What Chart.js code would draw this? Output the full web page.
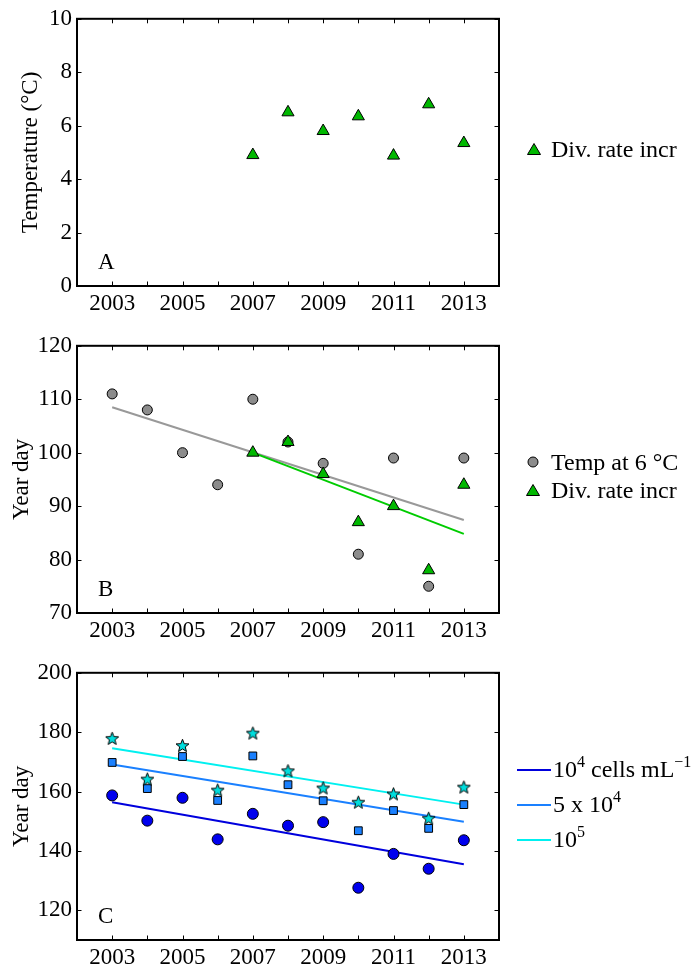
<!DOCTYPE html>
<html lang="en">
  <head>
    <meta charset="UTF-8" />
    <title>Phenology panels</title>
    <script src="https://cdn.jsdelivr.net/npm/chart.js@4.4.1/dist/chart.umd.min.js"></script>
    <style>
      html, body { margin: 0; padding: 0; background: #fff; }
      #page {
        position: relative;
        width: 694px;
        height: 972px;
        font-family: 'Liberation Serif', 'Times New Roman', serif;
        font-size: 24px;
        color: #000;
      }
      .panel { position: absolute; left: 0; width: 694px; height: 318px; }
      .legend { position: absolute; line-height: 28px; white-space: nowrap; }
      .legend .row { display: flex; align-items: center; }
      .legend svg { margin-right: 9px; }
      sup { font-size: 16px; line-height: 0; vertical-align: 10px; }
    </style>
  </head>
  <body>
    <div id="page">
      <div class="panel" style="top: 0"><canvas id="chart-a" width="694" height="318"></canvas></div>
      <div class="panel" style="top: 327px"><canvas id="chart-b" width="694" height="318"></canvas></div>
      <div class="panel" style="top: 654px"><canvas id="chart-c" width="694" height="318"></canvas></div>

      <div class="legend" style="left: 526px; top: 135px">
        <div class="row">
          <svg width="16" height="14"><polygon points="8,1.5 14.5,12.5 1.5,12.5" fill="#00b800" stroke="#000" stroke-width="1" /></svg>
          Div. rate incr
        </div>
      </div>
      <div class="legend" style="left: 526px; top: 448px">
        <div class="row">
          <svg width="16" height="14"><circle cx="7" cy="7" r="5" fill="#8c8c8c" stroke="#000" stroke-width="1" /></svg>
          Temp at 6 °C
        </div>
        <div class="row">
          <svg width="16" height="14"><polygon points="7,1.5 13.5,12.5 0.5,12.5" fill="#00b800" stroke="#000" stroke-width="1" /></svg>
          Div. rate incr
        </div>
      </div>
      <div class="legend" style="left: 517px; top: 752px; line-height: 35px">
        <div class="row">
          <svg width="34" height="6" style="margin-right: 2px"><line x1="0" y1="3" x2="34" y2="3" stroke="#0000dd" stroke-width="2" /></svg>
          <span>10<sup>4</sup> cells mL<sup>&minus;1</sup></span>
        </div>
        <div class="row">
          <svg width="34" height="6" style="margin-right: 2px"><line x1="0" y1="3" x2="34" y2="3" stroke="#1a80ff" stroke-width="2" /></svg>
          <span>5 x 10<sup>4</sup></span>
        </div>
        <div class="row">
          <svg width="34" height="6" style="margin-right: 2px"><line x1="0" y1="3" x2="34" y2="3" stroke="#00f0f0" stroke-width="2" /></svg>
          <span>10<sup>5</sup></span>
        </div>
      </div>
    </div>

    <script>
      // ---- data ----
      const years = [2003, 2004, 2005, 2006, 2007, 2008, 2009, 2010, 2011, 2012, 2013];
      const divYears = [2007, 2008, 2009, 2010, 2011, 2012, 2013];
      const xTicks = [2003, 2004, 2005, 2006, 2007, 2008, 2009, 2010, 2011, 2012, 2013];

      // panel A: temperature at division rate increase
      const divRateTemp = [4.9, 6.5, 5.8, 6.35, 4.88, 6.8, 5.35];
      const yTicksA = [0, 2, 4, 6, 8, 10];

      // panel B: year day
      const tempAt6 = [111, 108, 100, 94, 110, 102, 98, 81, 99, 75, 99];
      const divRateDay = [100, 102, 96, 87, 90, 78, 94];
      const tempAt6Fit = [108.5, 87.4];
      const divRateFit = [100, 84.8];
      const yTicksB = [70, 80, 90, 100, 110, 120];

      // panel C: year day reaching cell concentration thresholds
      const cells1e4 = [158.7, 150.2, 157.9, 143.9, 152.5, 148.5, 149.7, 127.6, 139, 134, 143.6];
      const cells5e4 = [169.8, 161, 171.8, 157, 172, 162.3, 156.9, 146.8, 153.6, 147.6, 155.6];
      const cells1e5 = [177.9, 164.2, 175.5, 160.5, 179.7, 167, 161.2, 156.4, 159.2, 151, 161.5];
      const fit1e4 = [156.4, 135.5];
      const fit5e4 = [169.1, 149.8];
      const fit1e5 = [174.6, 155.6];
      const yTicksC = [120, 140, 160, 180, 200];

      const FONT = { family: "'Liberation Serif', 'Times New Roman', serif", size: 23 };

      function pts(xs, ys) {
        return xs.map((x, i) => ({ x: x, y: ys[i] }));
      }
      function fitLine(xs, ends) {
        return [{ x: xs[0], y: ends[0] }, { x: xs[xs.length - 1], y: ends[1] }];
      }

      // filled five point star used as marker
      function makeStar() {
        const c = document.createElement('canvas');
        c.width = 15;
        c.height = 15;
        const g = c.getContext('2d');
        g.beginPath();
        for (let i = 0; i < 10; i++) {
          const r = i % 2 === 0 ? 6.8 : 2.9;
          const a = -Math.PI / 2 + (i * Math.PI) / 5;
          const px = 7.5 + r * Math.cos(a);
          const py = 8 + r * Math.sin(a);
          if (i === 0) g.moveTo(px, py);
          else g.lineTo(px, py);
        }
        g.closePath();
        g.fillStyle = '#00dede';
        g.fill();
        g.lineWidth = 1;
        g.strokeStyle = '#000';
        g.stroke();
        return c;
      }

      // box around the plot area, inward ticks, panel letter
      const framePlugin = {
        id: 'frame',
        afterDraw(chart, args, opts) {
          const ctx = chart.ctx;
          const a = chart.chartArea;
          const xs = chart.scales.x;
          const ys = chart.scales.y;
          const tl = 4.5;
          ctx.save();
          ctx.strokeStyle = '#000';
          ctx.lineWidth = 1;
          ctx.beginPath();
          xs.ticks.forEach((t) => {
            const px = Math.round(xs.getPixelForValue(t.value)) + 0.5;
            ctx.moveTo(px, a.bottom);
            ctx.lineTo(px, a.bottom - tl);
            ctx.moveTo(px, a.top);
            ctx.lineTo(px, a.top + tl);
          });
          ys.ticks.forEach((t) => {
            const py = Math.round(ys.getPixelForValue(t.value)) + 0.5;
            ctx.moveTo(a.left, py);
            ctx.lineTo(a.left + tl, py);
            ctx.moveTo(a.right, py);
            ctx.lineTo(a.right - tl, py);
          });
          ctx.stroke();
          ctx.lineWidth = 2;
          ctx.strokeRect(a.left, a.top, a.right - a.left, a.bottom - a.top);
          ctx.fillStyle = '#000';
          ctx.font = FONT.size + 'px ' + FONT.family;
          ctx.textBaseline = 'alphabetic';
          ctx.fillText(opts.letter, a.left + 21, a.bottom - 17);
          ctx.restore();
        },
      };

      function makeChart(id, datasets, yMin, yMax, yTicks, yTitle, titlePad, letter) {
        return new Chart(document.getElementById(id), {
          type: 'scatter',
          data: { datasets: datasets },
          options: {
            responsive: false,
            animation: false,
            layout: { padding: { top: 13, right: 195, left: 0, bottom: 0 } },
            plugins: {
              legend: { display: false },
              tooltip: { enabled: false },
              frame: { letter: letter },
            },
            scales: {
              x: {
                type: 'linear',
                min: 2002,
                max: 2014,
                grid: { display: false, drawTicks: false, tickLength: 0 },
                border: { display: false },
                afterBuildTicks: (s) => {
                  s.ticks = xTicks.map((v) => ({ value: v }));
                },
                afterFit: (s) => {
                  s.height = 32;
                },
                ticks: {
                  autoSkip: false,
                  maxRotation: 0,
                  padding: 4,
                  color: '#000',
                  font: FONT,
                  callback: (v) => (v % 2 === 1 ? String(v) : ''),
                },
              },
              y: {
                min: yMin,
                max: yMax,
                grid: { display: false, drawTicks: false, tickLength: 0 },
                border: { display: false },
                afterBuildTicks: (s) => {
                  s.ticks = yTicks.map((v) => ({ value: v }));
                },
                afterFit: (s) => {
                  s.width = 77;
                },
                title: {
                  display: true,
                  text: yTitle,
                  color: '#000',
                  font: FONT,
                  padding: { top: titlePad, bottom: 0 },
                },
                ticks: { padding: 5, color: '#000', font: FONT },
              },
            },
          },
          plugins: [framePlugin],
        });
      }

      const tri = { pointStyle: 'triangle', pointRadius: 7, backgroundColor: '#00b800', borderColor: '#000', borderWidth: 1 };
      const star = makeStar();

      makeChart('chart-a', [
        { label: 'Div. rate incr', data: pts(divYears, divRateTemp), ...tri },
      ], 0, 10, yTicksA, 'Temperature (°C)', 17, 'A');

      makeChart('chart-b', [
        { label: 'Div. rate incr', data: pts(divYears, divRateDay), ...tri },
        { label: 'Temp at 6 °C', data: pts(years, tempAt6), pointStyle: 'circle', pointRadius: 5,
          backgroundColor: '#8c8c8c', borderColor: '#000', borderWidth: 1 },
        { label: 'div fit', data: fitLine(divYears, divRateFit), showLine: true, pointRadius: 0,
          borderColor: '#00cc00', borderWidth: 2 },
        { label: 'temp fit', data: fitLine(years, tempAt6Fit), showLine: true, pointRadius: 0,
          borderColor: '#999999', borderWidth: 2 },
      ], 70, 120, yTicksB, 'Year day', 8, 'B');

      makeChart('chart-c', [
        { label: '1e5', data: pts(years, cells1e5), pointStyle: star, pointRadius: 6 },
        { label: '5e4', data: pts(years, cells5e4), pointStyle: 'rect', pointRadius: 5.5,
          backgroundColor: '#1a80ff', borderColor: '#000', borderWidth: 1 },
        { label: '1e4', data: pts(years, cells1e4), pointStyle: 'circle', pointRadius: 5.5,
          backgroundColor: '#0000ee', borderColor: '#000', borderWidth: 1 },
        { label: 'fit 1e5', data: fitLine(years, fit1e5), showLine: true, pointRadius: 0,
          borderColor: '#00f0f0', borderWidth: 2 },
        { label: 'fit 5e4', data: fitLine(years, fit5e4), showLine: true, pointRadius: 0,
          borderColor: '#1a80ff', borderWidth: 2 },
        { label: 'fit 1e4', data: fitLine(years, fit1e4), showLine: true, pointRadius: 0,
          borderColor: '#0000dd', borderWidth: 2 },
      ], 110, 200, yTicksC, 'Year day', 8, 'C');
    </script>
  </body>
</html>
